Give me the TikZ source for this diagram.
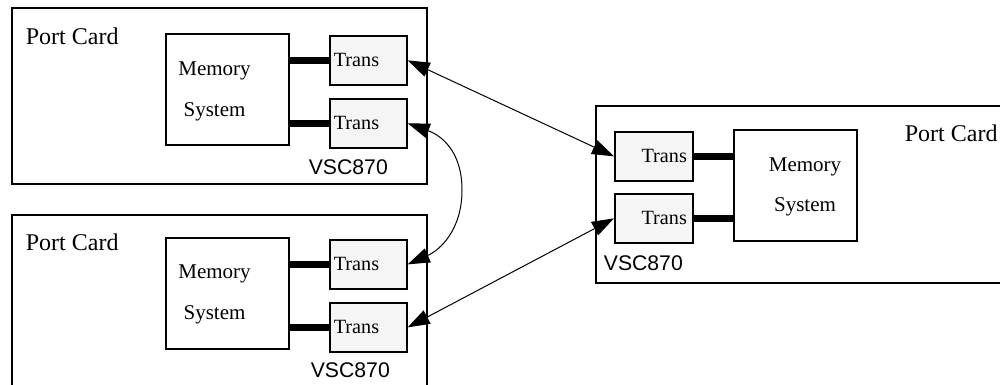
\documentclass[tikz,border=0pt]{standalone}
\usepackage{fontspec}
\setmainfont{Liberation Serif}
\setsansfont{Liberation Sans}
\usetikzlibrary{arrows.meta}
\definecolor{transgray}{RGB}{245,245,245}
\begin{document}
\begin{tikzpicture}[x=0.5pt, y=-0.5pt, line width=0.85pt,
    card/.style = {draw, anchor=north west, minimum width=207.5pt, inner sep=0},
    mem/.style = {draw, anchor=north west, minimum width=61.5pt, minimum height=55.5pt, inner sep=0},
    trans/.style = {draw, fill=transgray, anchor=north west, minimum height=24.5pt, inner ysep=0, font=\fontsize{10.1}{12}\selectfont},
    transL/.style = {trans, text width=34.5pt, inner xsep=2pt, align=left},
    transR/.style = {trans, text width=33pt, inner xsep=3pt, align=right},
    portlbl/.style = {anchor=west, inner sep=0, font=\fontsize{12}{14}\selectfont},
    vsclbl/.style = {anchor=west, inner sep=0, font=\sffamily\fontsize{10.6}{12}\selectfont},
    memlbl/.style = {align=center, inner sep=0, font=\fontsize{10.5}{20.3}\selectfont},
    bar/.style = {line width=3.5pt},
    link/.style = {line width=0.5pt, >={Triangle[length=11pt,width=7.5pt]}, <->}]
    \clip (0,0) rectangle (1000,385);
    % upper left card
    \node[card, minimum height=87.75pt] (cardA) at (11,7.5) {};
    \node[portlbl] (portA) at (25,36) {Port Card};
    \node[mem] (memA) at (165,33) {};
    \node[memlbl] (memtxtA) at (214.5,91.5) {Memory\\System};
    \node[transL] (tA1) at (329,35) {Trans};
    \node[transL] (tA2) at (329,98) {Trans};
    \node[vsclbl] (vscA) at (308,167) {VSC870};
    % lower left card
    \node[card, minimum height=89pt] (cardB) at (11,214) {};
    \node[portlbl] (portB) at (25,242) {Port Card};
    \node[mem] (memB) at (165,237) {};
    \node[memlbl] (memtxtB) at (214.5,294.5) {Memory\\System};
    \node[transL] (tB1) at (329,239) {Trans};
    \node[transL] (tB2) at (329,302) {Trans};
    \node[vsclbl] (vscB) at (310,370) {VSC870};
    % right card
    \node[card, minimum height=88.5pt] (cardC) at (595,105) {};
    \node[portlbl] (portC) at (904,133) {Port Card};
    \node[mem] (memC) at (733,129) {};
    \node[memlbl] (memtxtC) at (805,187) {Memory\\System};
    \node[transR] (tC1) at (614,131) {Trans};
    \node[transR] (tC2) at (614,193) {Trans};
    \node[vsclbl] (vscC) at (603,263) {VSC870};
    \coordinate (bend) at (462,190);
    % memory to transceiver
    \draw[bar] (memA.east |- tA1) -- (tA1.west);
    \draw[bar] (memA.east |- tA2) -- (tA2.west);
    \draw[bar] (memB.east |- tB1) -- (tB1.west);
    \draw[bar] (memB.east |- tB2) -- (tB2.west);
    \draw[bar] (tC1.east) -- (memC.west |- tC1);
    \draw[bar] (tC2.east) -- (memC.west |- tC2);
    % links
    \draw[link] (tA1.east) -- (tC1.west);
    \draw[link] (tB2.east) -- (tC2.west);
    \draw[link] (tA2.east) .. controls (440,135) and (462,150) .. (bend)
        .. controls (462,230) and (440,250) .. (tB1.east);
\end{tikzpicture}
\end{document}
